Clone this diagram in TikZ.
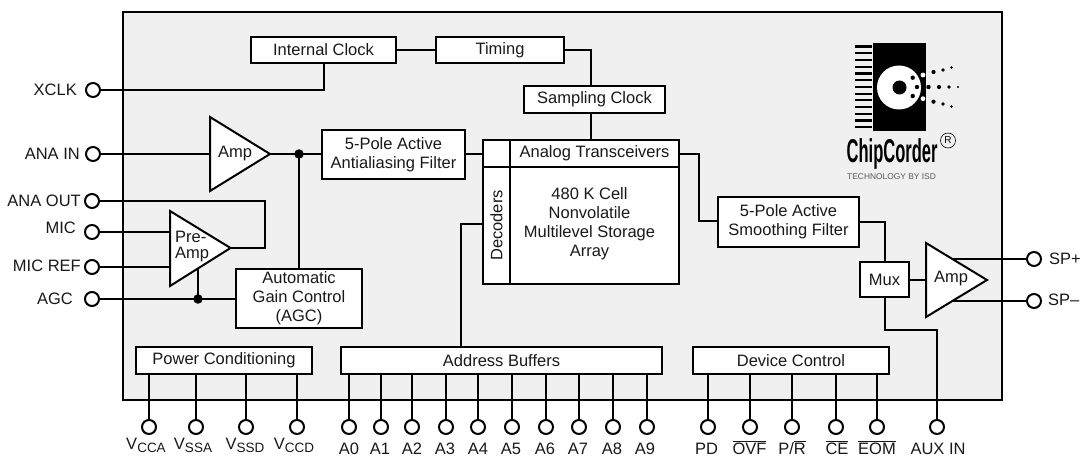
\documentclass[tikz,border=0pt]{standalone}
\usepackage{fontspec}
\setmainfont{Liberation Sans}
\newcommand\vsub[1]{V\raisebox{-3pt}{\fontsize{13.5}{14}\selectfont #1}}
\newcommand\ovl[1]{$\overline{\mbox{#1}}$}
\tikzset{
  wire/.style={line width=2pt,line join=miter},
  box/.style={draw,line width=2pt,fill=white,inner sep=0pt,align=center,font=\fontsize{16.5}{19}\selectfont,text=black!90},
  pin/.style={circle,draw,line width=2pt,fill=white,minimum size=14pt,inner sep=0pt},
  lbl/.style={inner sep=0pt,font=\fontsize{16.5}{19}\selectfont,text=black!90},
  tri/.style={draw,line width=2pt,fill=white,line join=miter},
  jdot/.style={circle,fill=black,minimum size=9.5pt,inner sep=0pt},
  chip/.style={fill=black},
}
\begin{document}
\begin{tikzpicture}[x=1pt,y=-1pt]
\useasboundingbox (0,0) rectangle (1083,457);
\fill[white] (0,0) rectangle (1083,457);
\draw[line width=2pt,fill=black!6] (123,12) rectangle (1002,400);

% boxes
\node[box,minimum width=145pt,minimum height=26pt] (iclk) at (323.5,50) {Internal Clock};
\node[box,minimum width=128pt,minimum height=26pt] (timing) at (500,50) {Timing};
\node[box,minimum width=141pt,minimum height=27pt] (samp) at (594.5,99.5) {Sampling Clock};
\node[box,minimum width=143pt,minimum height=49pt] (aa) at (393.5,154.5) {5-Pole Active\\Antialiasing Filter};
\node[box,minimum width=27pt,minimum height=27pt] (corner) at (496.5,153.5) {};
\node[box,minimum width=169pt,minimum height=27pt] (trans) at (594.5,153.5) {Analog Transceivers};
\node[box,minimum width=27pt,minimum height=117pt] (dec) at (496.5,225.5) {\rotatebox{90}{Decoders}};
\node[box,minimum width=169pt,minimum height=117pt] (array) at (594.5,225.5) {};
\node[lbl,align=center] (arrayt) at (589.5,223.5) {480 K Cell\\Nonvolatile\\Multilevel Storage\\Array};
\node[box,minimum width=141pt,minimum height=50pt] (smooth) at (788.5,222) {5-Pole Active\\Smoothing Filter};
\node[box,minimum width=49pt,minimum height=35pt] (mux) at (884.5,279.5) {Mux};
\node[box,minimum width=126pt,minimum height=59pt] (agcb) at (299,298.5) {Automatic\\Gain Control\\(AGC)};
\node[box,minimum width=176pt,minimum height=27pt] (pwr) at (224,360.5) {Power Conditioning};
\node[box,minimum width=321pt,minimum height=27pt] (addr) at (501.5,360.5) {Address Buffers};
\node[box,minimum width=196pt,minimum height=27pt] (dev) at (791,360.5) {Device Control};

% left pins
\node[pin] (xclk) at (93,90) {};
\node[pin] (anain) at (93,154) {};
\node[pin] (anaout) at (92,201) {};
\node[pin] (mic) at (92,232) {};
\node[pin] (micref) at (92,267) {};
\node[pin] (agc) at (92,299) {};
\node[lbl,anchor=east] (lxclk) at (77,90) {XCLK};
\node[lbl,anchor=east] (lanain) at (80,154) {ANA IN};
\node[lbl,anchor=east] (lanaout) at (81,200.5) {ANA OUT};
\node[lbl,anchor=east] (lmic) at (76,228) {MIC};
\node[lbl,anchor=east] (lmicref) at (81,266) {MIC REF};
\node[lbl,anchor=east] (lagc) at (73,299) {AGC};
% right pins
\node[pin] (spp) at (1034,259) {};
\node[pin] (spm) at (1034,301) {};
\node[lbl,anchor=west] (lspp) at (1049,259) {SP+};
\node[lbl,anchor=west] (lspm) at (1048,299.5) {SP--};

% reference points
\coordinate (ampin) at (210,154);
\coordinate (ampout) at (270,154);
\coordinate (preplus) at (170,232);
\coordinate (preminus) at (170,267);
\coordinate (preout) at (230,248);
\coordinate (prestem) at (198,262);
\coordinate (oampin) at (926,280);
\coordinate (oampp) at (950,259);
\coordinate (oampm) at (950,301);
\coordinate (jamp) at (299,154);
\coordinate (jagc) at (198,299);
\coordinate (c0) at (324,90);
\coordinate (c1) at (265,201);
\coordinate (c2) at (265,248);
\coordinate (c3) at (591,50);
\coordinate (c4) at (699,154);
\coordinate (c5) at (699,221);
\coordinate (c6) at (885,222);
\coordinate (c7) at (885,330);
\coordinate (c8) at (937,330);
\coordinate (c9) at (461,224);
\coordinate (c10) at (461,347);

% bottom pins
\foreach \n/\x in {va/149,vb/196,vc/246,vd/297}{
  \node[pin] (\n) at (\x,427) {};
  \draw[wire] (\n) -- (\n |- pwr.south);
}
\foreach \n/\x in {a0/349,a1/381,a2/412,a3/446,a4/478,a5/512,a6/546,a7/579,a8/613,a9/647}{
  \node[pin] (\n) at (\x,427) {};
  \draw[wire] (\n) -- (\n |- addr.south);
}
\foreach \n/\x in {pd/708,ovf/750,pr/792,ce/836,eom/877}{
  \node[pin] (\n) at (\x,427) {};
  \draw[wire] (\n) -- (\n |- dev.south);
}
\node[pin] (aux) at (937,427) {};

\foreach \n/\x/\t in {va/146/CCA,vb/193/SSA,vc/245/SSD,vd/294/CCD}{
  \node[lbl,anchor=base] (l\n) at (\x,449) {\vsub{\t}};
}
\foreach \n/\x/\t in {a0/349/A0,a1/380/A1,a2/412/A2,a3/445/A3,a4/478/A4,a5/511/A5,a6/545/A6,a7/578/A7,a8/612/A8,a9/645/A9}{
  \node[lbl,anchor=base] (l\n) at (\x,454) {\t};
}
\node[lbl,anchor=base] (lpd) at (706.5,454) {PD};
\node[lbl,anchor=base] (lovf) at (749.5,454) {\ovl{OVF}};
\node[lbl,anchor=base] (lpr) at (792,454) {P/\ovl{R}};
\node[lbl,anchor=base] (lce) at (837,454) {\ovl{CE}};
\node[lbl,anchor=base] (leom) at (877,454) {\ovl{EOM}};
\node[lbl,anchor=base] (laux) at (938,454) {AUX IN};

% connectors
\draw[wire] (iclk) -- (timing);
\draw[wire] (timing.east) -- (c3) -- (samp.north -| c3);
\draw[wire] (samp.south -| c3) -- (trans.north -| c3);
\draw[wire] (xclk) -- (c0) -- (iclk.south -| c0);
\draw[wire] (anain) -- (ampin);
\draw[wire] (ampout) -- (aa.west |- ampout);
\draw[wire] (jamp) -- (jamp |- agcb.north);
\draw[wire] (aa.east |- jamp) -- (corner.west |- jamp);
\draw[wire] (anaout) -- (c1) -- (c2) -- (preout);
\draw[wire] (mic) -- (preplus);
\draw[wire] (micref) -- (preminus);
\draw[wire] (agc) -- (agc -| agcb.west);
\draw[wire] (jagc) -- (prestem);
\draw[wire] (trans.east |- c4) -- (c4) -- (c5) -- (smooth.west |- c5);
\draw[wire] (smooth.east) -- (c6) -- (mux.north -| c6);
\draw[wire] (mux.east |- oampin) -- (oampin);
\draw[wire] (mux.south -| c7) -- (c7) -- (c8) -- (aux);
\draw[wire] (oampp) -- (spp);
\draw[wire] (oampm) -- (spm);
\draw[wire] (dec.west |- c9) -- (c9) -- (c10);

% triangles
\draw[tri] (210,117) -- (270,154) -- (210,191) -- cycle;
\draw[tri] (170,211) -- (230.5,248) -- (170,286) -- cycle;
\draw[tri] (926,243) -- (987,280) -- (926,317) -- cycle;
\node[lbl] (tamp) at (235,154) {Amp};
\node[lbl,font=\fontsize{16.5}{16}\selectfont,align=left,anchor=north west] (tpre) at (175,231) {Pre-\\Amp};
\node[lbl] (tamp2) at (951,279) {Amp};
\node[jdot] (dotamp) at (jamp) {};
\node[jdot] (dotagc) at (jagc) {};

% logo
\fill[chip] (873,43) rectangle (926,131);
\foreach \i in {0,...,12}{
  \fill[chip] (855,{46.5+6.73*\i-1.1}) rectangle (871.5,{46.5+6.73*\i+1.1});
}
\fill[white] (899,87.5) circle[radius=22];
\fill[black] (899.5,87.5) circle[radius=7];
\foreach \x/\y/\r in {912.7/77.7/2.2,917/87/2.2,912.7/96/2.2,
  933.5/72/2.1,943/70/1.8,951.5/67.5/1.3,
  928.5/87/2.2,939/87/2.1,949/87/1.8,958/87/1.2,
  933.5/101.7/2.1,943/104/1.8,951.5/106.5/1.3}{
  \fill[black] (\x,\y) circle[radius=\r];
}
\fill[white] (923,75) circle[radius=2.4];
\fill[white] (923,98.7) circle[radius=2.4];
\node[inner sep=0pt,font=\fontsize{33}{34}\selectfont,anchor=base west] (cc) at (846.5,163) {\scalebox{0.5}[1]{\textbf{ChipCorder}}};
\node[circle,draw,line width=0.6pt,inner sep=0pt,minimum size=15pt,font=\fontsize{10}{10}\selectfont] (reg) at (948,140.5) {R};
\node[inner sep=0pt,font=\fontsize{8.4}{10}\selectfont,text=black!65,anchor=base west] (tbi) at (847,179.5) {TECHNOLOGY BY ISD};
\end{tikzpicture}
\end{document}
